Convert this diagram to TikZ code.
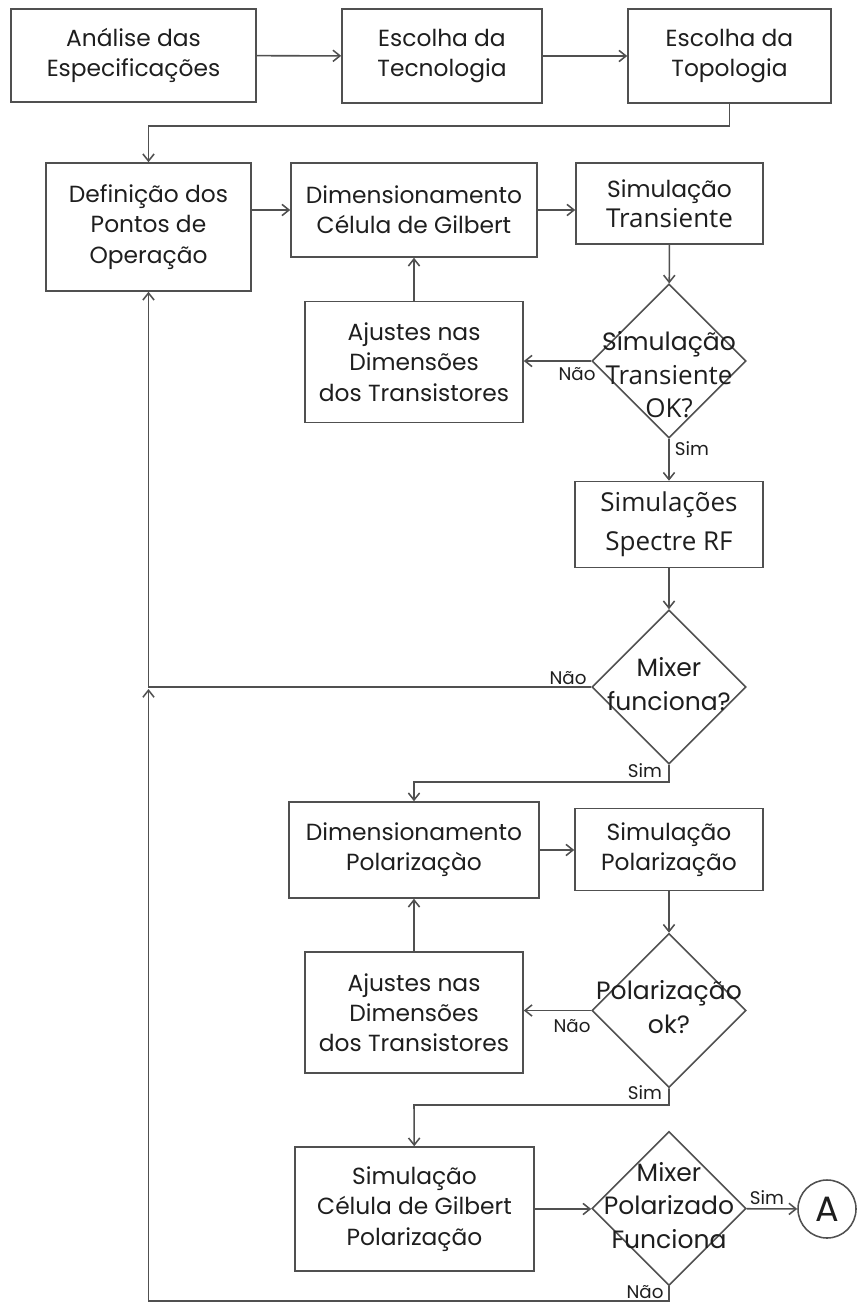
\documentclass[tikz,border=0pt]{standalone}
\usepackage{fontspec}
\setmainfont{Poppins}
\newfontfamily\osans{Open Sans}
\usetikzlibrary{arrows.meta,shapes.geometric}
\definecolor{linha}{HTML}{505050}
\definecolor{texto}{HTML}{1e1e1e}
\newcommand\tfont{\osans\fontsize{18.5}{19}\selectfont}
\newcommand\dtxt[2][-4pt]{\raisebox{#1}[0pt][0pt]{\makebox[0pt]{\begin{tabular}{@{}c@{}}#2\end{tabular}}}}

\begin{document}
\begin{tikzpicture}[x=0.025cm,y=-0.025cm,line width=1.1pt,color=linha,
  >={Straight Barb[length=5pt,width=8pt]},
  bloco/.style={draw,rectangle,align=center,inner sep=0pt,text=texto,font=\fontsize{16.6}{21.5}\selectfont},
  decisao/.style={draw,diamond,inner sep=0pt,minimum width=3.85cm,minimum height=3.85cm,text=texto,font=\fontsize{17.8}{24}\selectfont},
  rotulo/.style={inner sep=0pt,text=texto,font=\fontsize{13}{14}\selectfont}]
\useasboundingbox (0,0) rectangle (862,1303);

\node[bloco,minimum width=6.125cm,minimum height=2.325cm] (ana) at (133.5,55.5) {Análise das\\Especificações};
\node[bloco,minimum width=5cm,minimum height=2.35cm] (tec) at (442,56) {Escolha da\\Tecnologia};
\node[bloco,minimum width=5.075cm,minimum height=2.35cm] (top) at (729.5,56) {Escolha da\\Topologia};
\node[bloco,minimum width=5.125cm,minimum height=3.2cm] (pto) at (148.5,227) {Definição dos\\Pontos de\\Operação};
\node[bloco,minimum width=6.15cm,minimum height=2.35cm] (gil) at (414,210) {Dimensionamento\\Célula de Gilbert};
\node[bloco,minimum width=4.675cm,minimum height=2.025cm] (tra) at (669.5,203.5) {Simulação\\{\tfont Transiente}};
\node[decisao] (ok1) at (669,361) {\dtxt[-16pt]{Simulação\\{\tfont Transiente}\\{\tfont OK?}}};
\node[bloco,minimum width=5.45cm,minimum height=3.025cm] (aj1) at (414,362) {Ajustes nas\\Dimensões\\dos Transistores};
\node[bloco,minimum width=4.7cm,minimum height=2.15cm,font=\osans\fontsize{18.5}{28}\selectfont] (spe) at (669,524.5) {Simulações\\Spectre RF};
\node[decisao] (mx1) at (669,687) {\dtxt{Mixer\\funciona?}};
\node[bloco,minimum width=6.25cm,minimum height=2.4cm] (pol) at (414,850) {Dimensionamento\\Polarizaçào};
\node[bloco,minimum width=4.7cm,minimum height=2.05cm] (spo) at (669,849.5) {Simulação\\Polarização};
\node[decisao] (ok2) at (669,1010.5) {\dtxt{Polarização\\ok?}};
\node[bloco,minimum width=5.45cm,minimum height=3.025cm] (aj2) at (414,1012.5) {Ajustes nas\\Dimensões\\dos Transistores};
\node[bloco,minimum width=5.975cm,minimum height=3.1cm] (sgp) at (414.5,1209) {Simulação\\Célula de Gilbert\\Polarização};
\node[decisao] (mx2) at (669,1208.5) {\dtxt{Mixer\\Polarizado\\Funciona}};
\node[draw,circle,minimum size=1.45cm,inner sep=0pt,text=texto,font=\fontsize{25}{25}\selectfont] (fim) at (827,1209) {A};

\node[rotulo] (nao1) at (577,374) {Não};
\node[rotulo] (sim1) at (692,449) {Sim};
\node[rotulo] (nao2) at (568,678) {Não};
\node[rotulo] (sim2) at (645,771) {Sim};
\node[rotulo] (nao3) at (572,1026) {Não};
\node[rotulo] (sim3) at (645,1093) {Sim};
\node[rotulo] (sim4) at (767,1198) {Sim};
\node[rotulo] (nao4) at (645,1292) {Não};

\coordinate (c1) at (148.5,126);
\coordinate (c2) at (414,782);
\coordinate (c3) at (414,1105);
\coordinate (c4) at (148.5,1301);
\coordinate (c5) at (148.5,689);

\draw[->] (ana) -- (tec);
\draw[->] (tec) -- (top);
\draw[->] (top.south) |- (c1) -- (pto);
\draw[->] (pto.east |- gil) -- (gil);
\draw[->] (gil) -- (gil -| tra.west);
\draw[->] (tra) -- (ok1);
\draw[->] (ok1.west) -- (ok1.west -| aj1.east);
\draw[->] (aj1) -- (gil);
\draw[->] (ok1) -- (spe);
\draw[->] (spe) -- (mx1);
\draw[->] (mx1.west) -| (pto.south);
\draw[->] (mx1.south) |- (c2) -- (pol);
\draw[->] (pol) -- (pol -| spo.west);
\draw[->] (spo) -- (ok2);
\draw[->] (ok2.west) -- (ok2.west -| aj2.east);
\draw[->] (aj2) -- (pol);
\draw[->] (ok2.south) |- (c3) -- (sgp);
\draw[->] (sgp) -- (sgp -| mx2.west);
\draw[->] (mx2) -- (fim);
\draw[->] (mx2.south) |- (c4) -- (c5);
\end{tikzpicture}
\end{document}
